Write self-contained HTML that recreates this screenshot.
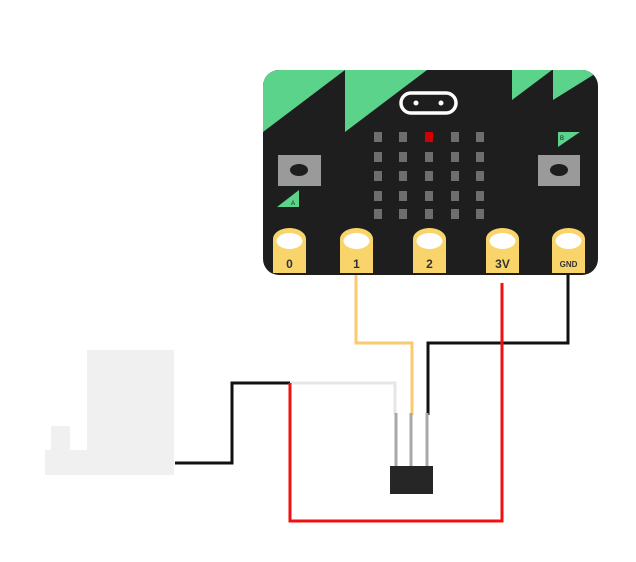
<!DOCTYPE html>
<html><head><style>body{margin:0;background:#fff}svg{display:block}</style></head><body>
<svg width="636" height="562" viewBox="0 0 636 562" xmlns="http://www.w3.org/2000/svg" font-family="Liberation Sans, sans-serif">
<rect width="636" height="562" fill="#fff"/>
<!-- sensor -->
<g fill="#f0f0f0">
<rect x="87" y="350" width="87" height="125"/>
<rect x="45" y="450" width="129" height="25"/>
<rect x="51" y="426" width="19" height="26"/>
</g>
<!-- wires -->
<g fill="none" stroke-width="3" stroke-linejoin="miter">
<polyline points="356,270 356,343 412,343 412,415" stroke="#fbc96e"/>
<polyline points="568,270 568,343 428,343 428,415" stroke="#111"/>
<polyline points="290,383 395,383 395,415" stroke="#e6e6e6"/>
<polyline points="175,463 232,463 232,383 290,383" stroke="#111"/>
<polyline points="502,283 502,521 290,521 290,383" stroke="#f01010"/>
</g>
<!-- transistor -->
<g stroke="#a8a8a8" stroke-width="3">
<line x1="396" y1="413" x2="396" y2="468"/>
<line x1="411" y1="413" x2="411" y2="468"/>
<line x1="427" y1="413" x2="427" y2="468"/>
</g>
<rect x="390" y="466" width="43" height="28" fill="#262626"/>
<!-- board -->
<defs><clipPath id="b"><rect x="263" y="70" width="335" height="205" rx="16"/></clipPath></defs>
<g clip-path="url(#b)">
<rect x="263" y="70" width="335" height="205" fill="#1e1e1e"/>
<g fill="#5bd38a">
<polygon points="263,70 345,70 263,132"/>
<polygon points="345,70 427,70 345,132"/>
<polygon points="512,70 552,70 512,100"/>
<polygon points="553,70 598,70 598,72 553,100"/>
</g>
</g>
<rect x="401" y="93" width="55" height="20" rx="10" fill="none" stroke="#fff" stroke-width="3.5"/>
<circle cx="416" cy="103" r="2.5" fill="#fff"/><circle cx="441" cy="103" r="2.5" fill="#fff"/>
<g fill="#6e6e6e">
<rect x="374" y="132" width="8" height="10"/><rect x="399" y="132" width="8" height="10"/><rect x="425" y="132" width="8" height="10" fill="#d40000"/><rect x="451" y="132" width="8" height="10"/><rect x="476" y="132" width="8" height="10"/>
<rect x="374" y="152" width="8" height="10"/><rect x="399" y="152" width="8" height="10"/><rect x="425" y="152" width="8" height="10"/><rect x="451" y="152" width="8" height="10"/><rect x="476" y="152" width="8" height="10"/>
<rect x="374" y="171" width="8" height="10"/><rect x="399" y="171" width="8" height="10"/><rect x="425" y="171" width="8" height="10"/><rect x="451" y="171" width="8" height="10"/><rect x="476" y="171" width="8" height="10"/>
<rect x="374" y="191" width="8" height="10"/><rect x="399" y="191" width="8" height="10"/><rect x="425" y="191" width="8" height="10"/><rect x="451" y="191" width="8" height="10"/><rect x="476" y="191" width="8" height="10"/>
<rect x="374" y="209" width="8" height="10"/><rect x="399" y="209" width="8" height="10"/><rect x="425" y="209" width="8" height="10"/><rect x="451" y="209" width="8" height="10"/><rect x="476" y="209" width="8" height="10"/>
</g>
<rect x="278" y="155" width="43" height="31" fill="#9a9a9a"/><ellipse cx="299" cy="170" rx="9" ry="6" fill="#1e1e1e"/>
<rect x="538" y="155" width="42" height="31" fill="#9a9a9a"/><ellipse cx="559" cy="170" rx="9" ry="6" fill="#1e1e1e"/>
<polygon points="277,207 299,190 299,207" fill="#5bd38a"/>
<text x="291" y="205" font-size="6" fill="#1e1e1e">A</text>
<polygon points="558,132 580,132 558,147" fill="#5bd38a"/>
<text x="560" y="140" font-size="6" fill="#1e1e1e">B</text>
<!-- pins -->
<g fill="#f8d46b">
<rect x="273" y="239" width="33" height="34"/><rect x="340" y="239" width="33" height="34"/><rect x="413" y="239" width="33" height="34"/><rect x="486" y="239" width="33" height="34"/><rect x="552" y="239" width="33" height="34"/>
<ellipse cx="289.5" cy="239" rx="16.5" ry="11"/><ellipse cx="356.5" cy="239" rx="16.5" ry="11"/><ellipse cx="429.5" cy="239" rx="16.5" ry="11"/><ellipse cx="502.5" cy="239" rx="16.5" ry="11"/><ellipse cx="568.5" cy="239" rx="16.5" ry="11"/>
</g>
<g fill="#fff">
<ellipse cx="289.5" cy="241" rx="13" ry="8"/><ellipse cx="356.5" cy="241" rx="13" ry="8"/><ellipse cx="429.5" cy="241" rx="13" ry="8"/><ellipse cx="502.5" cy="241" rx="13" ry="8"/><ellipse cx="568.5" cy="241" rx="13" ry="8"/>
</g>
<g fill="#333" font-size="12" font-weight="bold" text-anchor="middle">
<text x="289.5" y="268">0</text><text x="356.5" y="268">1</text><text x="429.5" y="268">2</text><text x="502.5" y="268">3V</text><text x="568.5" y="267" font-size="8">GND</text>
</g>
</svg>
</body></html>
